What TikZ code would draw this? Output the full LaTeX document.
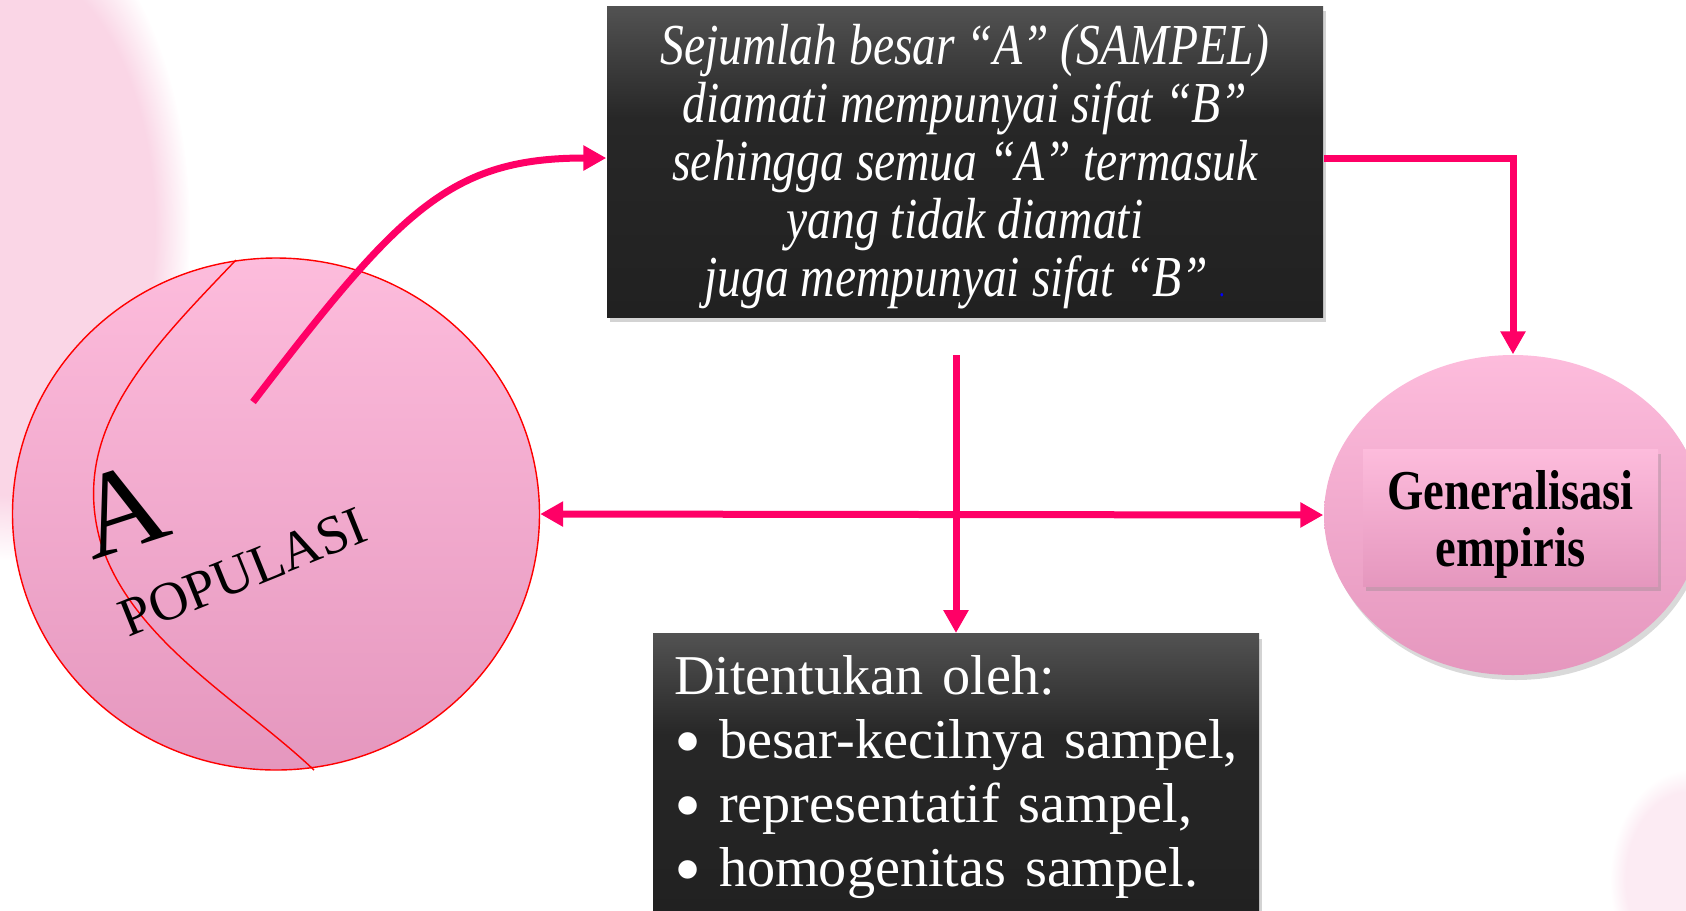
\documentclass[tikz,border=0pt]{standalone}
\usepackage{fontspec}
\setmainfont{Liberation Serif}
\newfontfamily\condfont[FakeStretch=0.82]{Liberation Serif}
\newfontfamily\genfont[FakeStretch=0.83]{Liberation Serif}
\newfontfamily\botfont[WordSpace=0.75]{Liberation Serif}
\usetikzlibrary{arrows.meta,shapes.geometric,shadows,fadings}
\definecolor{hot}{HTML}{FF0066}
\definecolor{pinktop}{HTML}{FDBCDC}
\definecolor{pinkbot}{HTML}{E597BE}
\definecolor{darktop}{HTML}{525252}
\definecolor{darkmid}{HTML}{272727}
\definecolor{darkbot}{HTML}{212121}
\definecolor{smear}{HTML}{FAD6E6}
\pgfdeclareverticalshading{darkshade}{100bp}{color(0bp)=(darkbot); color(25bp)=(darkbot); color(57bp)=(darkmid); color(75bp)=(darktop); color(100bp)=(darktop)}
\tikzset{
  darkbox/.style={shading=darkshade, inner sep=0pt, text=white,
    drop shadow={shadow xshift=0.3mm, shadow yshift=-0.5mm, opacity=0.35}},
  pinkfill/.style={top color=pinktop, bottom color=pinkbot},
  softshadow/.style={drop shadow={shadow xshift=0.3mm, shadow yshift=-0.5mm, opacity=0.3}},
  arr/.style={draw=hot, line width=0.7mm, -{Triangle[length=2.3mm,width=2.4mm]}},
  dblarr/.style={draw=hot, line width=0.7mm, {Triangle[length=2.3mm,width=2.4mm]}-{Triangle[length=2.3mm,width=2.4mm]}}
}
\newcommand{\bul}{\makebox[4.5mm][l]{\raisebox{-0.35ex}{\fontsize{22}{22}\selectfont\textbullet}}}
\begin{document}
\begin{tikzpicture}[x=0.1mm, y=-0.1mm]
\useasboundingbox (0,0) rectangle (1686,910);
% background smears
\fill[smear, path fading=circle with fuzzy edge 20 percent] (10,230) ellipse [x radius=180, y radius=330];
\fill[smear!50, path fading=circle with fuzzy edge 20 percent] (1690,880) ellipse [x radius=80, y radius=110];

% populasi circle
\node[ellipse, draw=red, line width=0.4pt, pinkfill, minimum width=52.7mm,
      minimum height=51.2mm, inner sep=0pt] (pop) at (276,514) {};
\draw[red, line width=0.4pt] (236,260) .. controls (150,350) and (70,430) .. (100,540)
   .. controls (130,640) and (240,700) .. (314,770);
\node[rotate=18, font=\fontsize{34}{34}\selectfont, inner sep=0pt] (labA) at (121,510) {A};
\node[rotate=22, font=\fontsize{15.5}{15.5}\selectfont, inner sep=0pt] (labP) at (243,572) {POPULASI};

% right ellipse
\node[ellipse, pinkfill, softshadow, minimum width=37.8mm, minimum height=32mm,
      inner sep=0pt] (emp) at (1513,515) {};
\node[rectangle, pinkfill, softshadow, minimum width=29.5mm, minimum height=13.7mm,
      inner sep=0pt] (gen) at (1510.5,517.5) {};
\node[align=center, inner sep=0pt, font=\genfont\bfseries\fontsize{16}{16.2}\selectfont]
      (gentext) at (1510.5,524) {Generalisasi\\empiris};

% top dark box
\node[darkbox, minimum width=71.6mm, minimum height=31.1mm] (top) at (965,161.5) {};
\node[align=center, inner sep=0pt, text=white,
      font=\condfont\itshape\fontsize{16.5}{16.5}\selectfont] (toptext) at (965,167)
  {Sejumlah besar “A” (SAMPEL)\\
   diamati mempunyai sifat “B”\\
   sehingga semua “A” termasuk\\
   yang tidak diamati\\
   juga mempunyai sifat “B” {\color{blue}\fontsize{8}{8}\selectfont .}};

% bottom dark box
\node[darkbox, anchor=north, minimum width=60.6mm, minimum height=28mm] (bot) at (956,633) {};
\node[text width=56.4mm, inner sep=0pt, align=left, text=white,
      font=\botfont\fontsize{16}{18.2}\selectfont]
      (bottext) at (956,777)
  {Ditentukan oleh:\\
   \bul besar-kecilnya sampel,\\
   \bul representatif sampel,\\
   \bul homogenitas sampel.};

% connectors
\coordinate (cstart) at (253,402);
\coordinate (vstart) at (956,355);
\draw[arr] (cstart) .. controls (400,210) and (450,158) .. ([yshift=0.35mm]top.west);
\draw[arr] ([yshift=0.35mm]top.east) -| (emp.north);
\draw[arr] (vstart) -- (bot.north);
\draw[dblarr] (pop.east) -- (emp.west);
\end{tikzpicture}
\end{document}
